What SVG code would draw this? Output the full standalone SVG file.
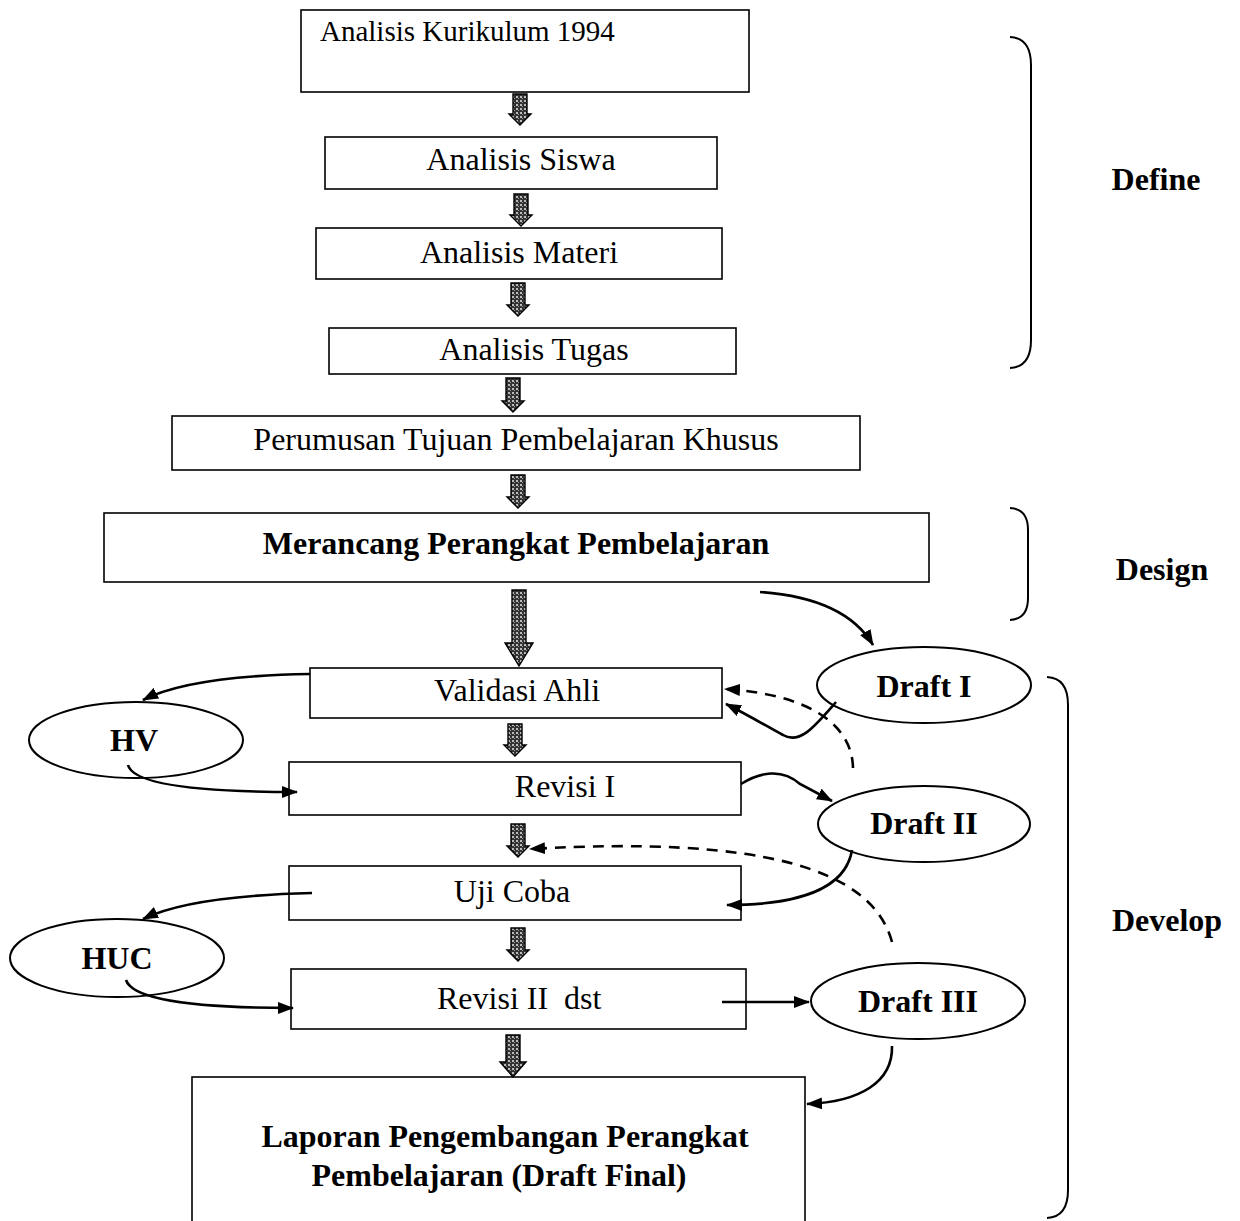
<svg xmlns="http://www.w3.org/2000/svg" width="1240" height="1221" viewBox="0 0 1240 1221">
<style>
.box{fill:#fff;stroke:#000;stroke-width:1.6}
.ell{fill:#fff;stroke:#000;stroke-width:2}
.t{font-family:"Liberation Serif","Times New Roman",serif;font-size:32px;fill:#000}
.b{font-weight:bold}
.m{text-anchor:middle}
.con{fill:none;stroke:#000;stroke-width:2.6}
.dash{stroke-dasharray:11 8}
.blk{fill:url(#dots);stroke:#000;stroke-width:1.4}
.brace{fill:none;stroke:#000;stroke-width:2}
</style>
<defs>
<pattern id="dots" width="4" height="4" patternUnits="userSpaceOnUse">
<rect width="4" height="4" fill="#333"/>
<rect x="0" y="0" width="2" height="2" fill="#bbb"/>
<rect x="2" y="2" width="1" height="1" fill="#999"/>
</pattern>
<marker id="ah" viewBox="0 0 16 12" refX="15" refY="6" markerWidth="16" markerHeight="12" markerUnits="userSpaceOnUse" orient="auto">
<path d="M0,0 L16,6 L0,12 Z" fill="#000"/>
</marker>
</defs>

<g id="n-kurikulum"><rect class="box" x="301" y="10" width="448" height="82"/><text class="t" x="320" y="41" style="font-size:29px">Analisis Kurikulum 1994</text></g>
<g id="n-siswa"><rect class="box" x="325" y="137" width="392" height="52"/><text class="t m" x="521" y="170">Analisis Siswa</text></g>
<g id="n-materi"><rect class="box" x="316" y="228" width="406" height="51"/><text class="t m" x="519" y="263">Analisis Materi</text></g>
<g id="n-tugas"><rect class="box" x="329" y="328" width="407" height="46"/><text class="t m" x="534" y="360">Analisis Tugas</text></g>
<g id="n-perumusan"><rect class="box" x="172" y="416" width="688" height="54"/><text class="t m" x="516" y="450">Perumusan Tujuan Pembelajaran Khusus</text></g>
<g id="n-merancang"><rect class="box" x="104" y="513" width="825" height="69"/><text class="t b m" x="516" y="554">Merancang Perangkat Pembelajaran</text></g>
<g id="n-validasi"><rect class="box" x="310" y="668" width="412" height="50"/><text class="t m" x="517" y="701">Validasi Ahli</text></g>
<g id="n-revisi1"><rect class="box" x="289" y="762" width="452" height="53"/><text class="t m" x="565" y="797">Revisi I</text></g>
<g id="n-ujicoba"><rect class="box" x="289" y="866" width="452" height="54"/><text class="t m" x="512" y="902">Uji Coba</text></g>
<g id="n-revisi2"><rect class="box" x="291" y="969" width="455" height="60"/><text class="t" x="437" y="1009" xml:space="preserve">Revisi II  dst</text></g>
<g id="n-laporan"><rect class="box" x="192" y="1077" width="613" height="150"/><text class="t b m" x="505" y="1147">Laporan Pengembangan Perangkat</text><text class="t b m" x="499" y="1186">Pembelajaran (Draft Final)</text></g>

<g id="n-draft1"><ellipse class="ell" cx="924" cy="685" rx="107" ry="38"/><text class="t b m" x="924" y="697">Draft I</text></g>
<g id="n-hv"><ellipse class="ell" cx="136" cy="740" rx="107" ry="38"/><text class="t b m" x="134" y="751">HV</text></g>
<g id="n-draft2"><ellipse class="ell" cx="924" cy="824" rx="106" ry="38"/><text class="t b m" x="924" y="834">Draft II</text></g>
<g id="n-huc"><ellipse class="ell" cx="117" cy="958" rx="107" ry="39"/><text class="t b m" x="117" y="969">HUC</text></g>
<g id="n-draft3"><ellipse class="ell" cx="918" cy="1001" rx="107" ry="38"/><text class="t b m" x="918" y="1012">Draft III</text></g>

<g id="phases">
<path class="brace" d="M1010,37 Q1031,38 1031,65 V340 Q1031,367 1010,368"/>
<path class="brace" d="M1010,508 Q1028,509 1028,530 V598 Q1028,619 1010,620"/>
<path class="brace" d="M1047,677 Q1068,678 1068,705 V1190 Q1068,1217 1047,1218"/>
<text class="t b m" x="1156" y="190">Define</text>
<text class="t b m" x="1162" y="580">Design</text>
<text class="t b m" x="1167" y="931">Develop</text>
</g>

<g id="connectors">
<path class="blk" d="M513,94 H527 V114 H531 L520,125 L509,114 H513 Z"/>
<path class="blk" d="M514,194 H528 V215 H532 L521,226 L510,215 H514 Z"/>
<path class="blk" d="M511,283 H525 V305 H529 L518,316 L507,305 H511 Z"/>
<path class="blk" d="M506,378 H520 V401 H524 L513,412 L502,401 H506 Z"/>
<path class="blk" d="M511,475 H525 V497 H529 L518,508 L507,497 H511 Z"/>
<path class="blk" d="M512,590 H526 V643 H533 L519,666 L505,643 H512 Z"/>
<path class="blk" d="M508,724 H522 V745 H526 L515,756 L504,745 H508 Z"/>
<path class="blk" d="M511,824 H525 V846 H529 L518,857 L507,846 H511 Z"/>
<path class="blk" d="M511,928 H525 V950 H529 L518,961 L507,950 H511 Z"/>
<path class="blk" d="M506,1035 H520 V1062 H526 L513,1077 L500,1062 H506 Z"/>

<path class="con" marker-end="url(#ah)" d="M760,592 Q845,598 873,645"/>
<path class="con" marker-end="url(#ah)" d="M310,674 Q190,676 143,700"/>
<path class="con" marker-end="url(#ah)" d="M128,765 Q135,792 297,792"/>
<path class="con" marker-end="url(#ah)" d="M836,702 C815,726 800,745 783,735 C768,727 750,716 726,704"/>
<path class="con dash" marker-end="url(#ah)" d="M853,768 C852,722 805,694 725,689"/>
<path class="con" marker-end="url(#ah)" d="M741,784 C760,772 782,768 800,784 L832,801"/>
<path class="con" marker-end="url(#ah)" d="M852,850 C846,888 800,905 727,905"/>
<path class="con dash" marker-end="url(#ah)" d="M892,942 C872,868 760,836 530,849"/>
<path class="con" marker-end="url(#ah)" d="M722,1002 L809,1002"/>
<path class="con" marker-end="url(#ah)" d="M892,1046 C893,1082 860,1102 807,1104"/>
<path class="con" marker-end="url(#ah)" d="M312,893 Q190,896 143,919"/>
<path class="con" marker-end="url(#ah)" d="M126,980 Q135,1008 293,1008"/>
</g>
</svg>
